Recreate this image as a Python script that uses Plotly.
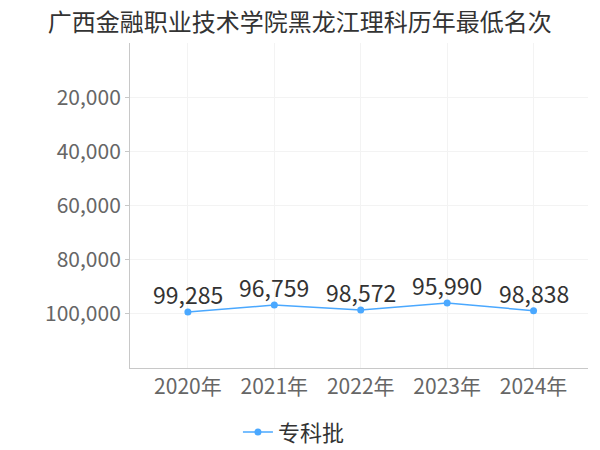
import plotly.graph_objects as go

years = ["2020年", "2021年", "2022年", "2023年", "2024年"]
ranks = [99285, 96759, 98572, 95990, 98838]
series_name = "专科批"
y_ticks = [20000, 40000, 60000, 80000, 100000]

fig = go.Figure()
fig.add_trace(go.Scatter(
    x=years, y=ranks, name=series_name,
    mode="lines+markers",
    line=dict(color="#4aa8ff", width=1.5),
    marker=dict(color="#4aa8ff", size=7),
))

# value labels sit just above each point
for yr, v in zip(years, ranks):
    fig.add_annotation(x=yr, y=v, text=f"{v:,}", showarrow=False,
                       yanchor="middle", yshift=18,
                       font=dict(size=23, color="#333333"))

# page body has an 8px margin, so the figure is a bit smaller than the window
fig.update_layout(
    width=592, height=442,
    margin=dict(l=122, r=12, t=35, b=82, autoexpand=False),
    paper_bgcolor="white", plot_bgcolor="white",
    font=dict(family="Noto Sans CJK SC, sans-serif"),
    title=dict(text="广西金融职业技术学院黑龙江理科历年最低名次",
               x=0.493, xanchor="center", xref="container",
               y=0.966, yanchor="middle", yref="container",
               font=dict(size=24, color="#333333")),
    showlegend=True,
    legend=dict(orientation="h", x=0.483, xanchor="center", xref="container",
                y=0.04, yanchor="middle", yref="container",
                font=dict(size=22, color="#333333")),
)
fig.update_xaxes(
    type="category", range=[-0.67, 4.63], automargin=False,
    showgrid=True, gridcolor="#f3f3f3",
    showline=True, linecolor="#c8c8c8", linewidth=1,
    ticks="", tickfont=dict(size=21, color="#666666"),
)
fig.update_yaxes(
    range=[120000, 0], tickvals=y_ticks, tickformat=",", automargin=False,
    showgrid=True, gridcolor="#f3f3f3", zeroline=False,
    showline=True, linecolor="#c8c8c8", linewidth=1,
    ticks="outside", ticklen=4, tickcolor="#c8c8c8",
    tickfont=dict(size=21, color="#666666"),
)

fig.write_html("out.html")
